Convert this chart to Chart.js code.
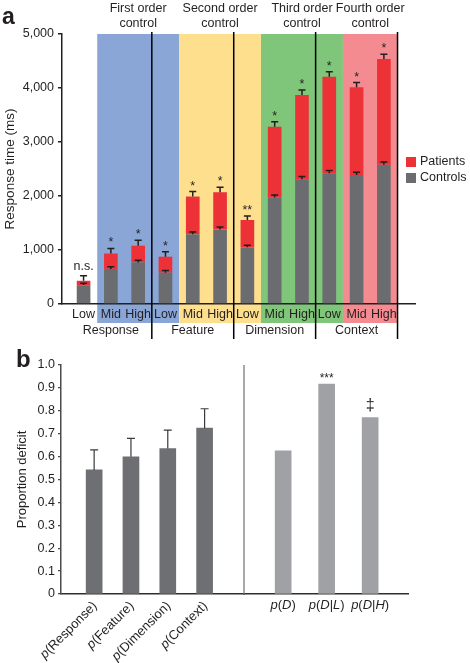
<!DOCTYPE html>
<html lang="en">
<head>
<meta charset="utf-8">
<title>Response time and proportion deficit</title>
<script src="https://cdn.jsdelivr.net/npm/chart.js@4.4.1/dist/chart.umd.min.js"></script>
<style>
  html, body { margin: 0; padding: 0; background: #ffffff; }
  .panel { position: relative; width: 470px; }
  #panel-a { height: 345px; }
  #panel-b { height: 318px; }
</style>
</head>
<body>
<div class="panel" id="panel-a"><canvas id="response-time"></canvas></div>
<div class="panel" id="panel-b"><canvas id="proportion-deficit"></canvas></div>
<script>
// ---- panel a data ----
const levels = ["Low", "Mid", "High", "Low", "Mid", "High", "Low", "Mid", "High", "Low", "Mid", "High"];
const taskGroups = ["Response", "Feature", "Dimension", "Context"];
const orderLabels = [["First order", "control"], ["Second order", "control"], ["Third order", "control"], ["Fourth order", "control"]];
const orderFirst = [1, 4, 7, 10];
const orderLast = [3, 6, 9, 11];
const controlsRT = [350, 650, 770, 580, 1290, 1380, 1050, 1970, 2310, 2420, 2390, 2580];
const controlsErr = [35, 40, 40, 40, 45, 45, 40, 50, 50, 50, 50, 50];
const patientsRT = [430, 935, 1080, 876, 1990, 2070, 1556, 3284, 3871, 4210, 4013, 4537];
const patientsErr = [95, 95, 100, 90, 92, 93, 75, 92, 92, 92, 88, 88];
const significance = ["n.s.", "*", "*", "*", "*", "*", "**", "*", "*", "*", "*", "*"];
const rtTicks = [0, 1000, 2000, 3000, 4000, 5000];

// ---- panel b data ----
const deficitLeftLabels = ["p(Response)", "p(Feature)", "p(Dimension)", "p(Context)"];
const deficitLeft = [0.542, 0.599, 0.635, 0.724];
const deficitLeftErr = [0.087, 0.081, 0.081, 0.085];
const deficitRightLabels = ["p(D)", "p(D|L)", "p(D|H)"];
const deficitRight = [0.625, 0.917, 0.770];
const deficitRightMarks = ["", "***", "\u2021"];
const deficitTicks = [0, 0.1, 0.2, 0.3, 0.4, 0.5, 0.6, 0.7, 0.8, 0.9, 1.0];

const fontFamily = '"Liberation Sans", Arial, Helvetica, sans-serif';
const ink = "#231f20";
const orderColors = ["#89a6d7", "#fddf8e", "#7fc57a", "#f38b91"];

Chart.defaults.font.family = fontFamily;
Chart.defaults.color = ink;

function drawErrorBar(ctx, x, yFrom, yTo, half) {
  ctx.beginPath();
  ctx.moveTo(x, yFrom);
  ctx.lineTo(x, yTo);
  ctx.moveTo(x - half, yTo);
  ctx.lineTo(x + half, yTo);
  ctx.stroke();
}

function richParts(label, italicAll) {
  return [...label].map((ch, k) => ({ ch, italic: /[A-Za-z]/.test(ch) && (italicAll || k === 0) }));
}

function richFont(italic, size) {
  return (italic ? "italic " : "") + size + "px " + fontFamily;
}

function measureRich(ctx, parts, size) {
  let w = 0;
  for (const p of parts) {
    ctx.font = richFont(p.italic, size);
    w += ctx.measureText(p.ch).width;
  }
  return w;
}

function fillRich(ctx, parts, size, startX, y) {
  let cx = startX;
  for (const p of parts) {
    ctx.font = richFont(p.italic, size);
    ctx.fillText(p.ch, cx, y);
    cx += ctx.measureText(p.ch).width;
  }
}

const panelAExtras = {
  id: "panelAExtras",
  beforeDraw(chart) {
    const { ctx, chartArea, scales: { x } } = chart;
    ctx.save();
    orderFirst.forEach((first, k) => {
      const left = x.getPixelForValue(first - 0.5);
      const right = x.getPixelForValue(orderLast[k] + 0.5);
      ctx.fillStyle = orderColors[k];
      ctx.fillRect(left, chartArea.top, right - left, chartArea.bottom - chartArea.top + 19);
    });
    ctx.restore();
  },
  afterDatasetsDraw(chart) {
    const { ctx, scales: { x, y } } = chart;
    ctx.save();
    ctx.strokeStyle = ink;
    ctx.lineWidth = 1.5;
    ctx.fillStyle = ink;
    ctx.textAlign = "center";
    ctx.textBaseline = "alphabetic";
    ctx.font = "12.5px " + fontFamily;
    levels.forEach((_, i) => {
      const px = x.getPixelForValue(i);
      drawErrorBar(ctx, px, y.getPixelForValue(controlsRT[i]), y.getPixelForValue(controlsRT[i] + controlsErr[i]), 3.5);
      const errTop = y.getPixelForValue(patientsRT[i] + patientsErr[i]);
      drawErrorBar(ctx, px, y.getPixelForValue(patientsRT[i]), errTop, 3.5);
      const mark = significance[i];
      ctx.fillText(mark, px, errTop - (mark === "n.s." ? 6 : 2));
    });
    ctx.restore();
  },
  afterDraw(chart) {
    const { ctx, chartArea, scales: { x } } = chart;
    ctx.save();
    // group separators
    ctx.strokeStyle = "#000000";
    ctx.lineWidth = 1.5;
    taskGroups.forEach((_, k) => {
      const px = x.getPixelForValue(3 * k + 2.5);
      ctx.beginPath();
      ctx.moveTo(px, chartArea.top - 2);
      ctx.lineTo(px, chartArea.bottom + 35);
      ctx.stroke();
    });
    ctx.fillStyle = ink;
    ctx.textAlign = "center";
    ctx.textBaseline = "middle";
    ctx.font = "12.5px " + fontFamily;
    taskGroups.forEach((name, k) => {
      ctx.fillText(name, x.getPixelForValue(3 * k + 1), chartArea.bottom + 27);
    });
    orderLabels.forEach((lines, k) => {
      const cx = x.getPixelForValue((orderFirst[k] + orderLast[k]) / 2);
      ctx.fillText(lines[0], cx, chartArea.top - 25);
      ctx.fillText(lines[1], cx, chartArea.top - 10);
    });
    // legend
    const midY = (chartArea.top + chartArea.bottom) / 2;
    const items = chart.data.datasets.slice().reverse();
    ctx.textAlign = "left";
    items.forEach((ds, k) => {
      const cy = midY - 7 + k * 16;
      ctx.fillStyle = ds.backgroundColor;
      ctx.fillRect(chartArea.right - 9, cy - 5, 10, 10);
      ctx.fillStyle = ink;
      ctx.fillText(ds.label, chartArea.right + 5, cy);
    });
    // panel letter
    ctx.font = "bold 23px " + fontFamily;
    ctx.textBaseline = "alphabetic";
    ctx.fillText("a", 2, 24);
    ctx.restore();
  }
};

new Chart(document.getElementById("response-time"), {
  type: "bar",
  data: {
    datasets: [
      {
        label: "Controls",
        data: controlsRT.map((v, i) => ({ x: i, y: v })),
        backgroundColor: "#6b6c6f",
        stack: "rt"
      },
      {
        label: "Patients",
        data: patientsRT.map((v, i) => ({ x: i, y: v - controlsRT[i] })),
        backgroundColor: "#ec3237",
        stack: "rt"
      }
    ]
  },
  options: {
    animation: false,
    responsive: true,
    maintainAspectRatio: false,
    layout: { padding: { top: 34, right: 55, bottom: 21, left: 0 } },
    plugins: { legend: { display: false }, tooltip: { enabled: false } },
    datasets: { bar: { categoryPercentage: 1, barPercentage: 0.5 } },
    scales: {
      x: {
        type: "linear",
        stacked: true,
        offset: false,
        min: -0.79,
        max: 12.14,
        afterBuildTicks: (scale) => { scale.ticks = levels.map((_, i) => ({ value: i })); },
        afterFit: (scale) => { scale.height = 20; },
        grid: { display: false, drawTicks: false },
        border: { color: ink, width: 1.5 },
        ticks: {
          callback: (v) => levels[v],
          font: { size: 12.5 },
          color: ink,
          padding: 3,
          autoSkip: false,
          maxRotation: 0
        }
      },
      y: {
        stacked: true,
        min: 0,
        max: 5000,
        afterBuildTicks: (scale) => { scale.ticks = rtTicks.map((v) => ({ value: v })); },
        afterFit: (scale) => { scale.width = 62; },
        grid: { drawOnChartArea: false, drawTicks: true, tickLength: 4, color: ink, lineWidth: 1.5 },
        border: { color: ink, width: 1.5 },
        ticks: {
          callback: (v) => Number(v).toLocaleString("en-US"),
          font: { size: 12.5 },
          color: ink,
          padding: 4
        },
        title: {
          display: true,
          text: "Response time (ms)",
          font: { size: 13.5 },
          color: ink,
          padding: { top: 2, bottom: 0 }
        }
      }
    }
  },
  plugins: [panelAExtras]
});

const panelBExtras = {
  id: "panelBExtras",
  afterDatasetsDraw(chart) {
    const { ctx, scales: { xL, xR, y } } = chart;
    ctx.save();
    ctx.strokeStyle = "#3a3a3c";
    ctx.lineWidth = 1.2;
    deficitLeft.forEach((v, i) => {
      const px = xL.getPixelForValue(i);
      drawErrorBar(ctx, px, y.getPixelForValue(v), y.getPixelForValue(v + deficitLeftErr[i]), 4);
    });
    ctx.fillStyle = ink;
    ctx.textAlign = "center";
    ctx.textBaseline = "alphabetic";
    deficitRight.forEach((v, i) => {
      const mark = deficitRightMarks[i];
      if (!mark) return;
      const top = y.getPixelForValue(v);
      if (mark === "***") {
        ctx.font = "12px " + fontFamily;
        ctx.fillText(mark, xR.getPixelForValue(i), top - 2);
      } else {
        ctx.font = "16px " + fontFamily;
        ctx.fillText(mark, xR.getPixelForValue(i), top - 8);
      }
    });
    ctx.restore();
  },
  afterDraw(chart) {
    const { ctx, chartArea, scales: { xL, xR } } = chart;
    ctx.save();
    // separator between the two groups
    ctx.strokeStyle = "#7b7b7d";
    ctx.lineWidth = 1.3;
    ctx.beginPath();
    ctx.moveTo(xR.left, chartArea.top);
    ctx.lineTo(xR.left, chartArea.bottom);
    ctx.stroke();

    ctx.fillStyle = ink;
    ctx.textBaseline = "middle";
    const size = 13;
    deficitLeftLabels.forEach((label, i) => {
      const parts = richParts(label, false);
      const w = measureRich(ctx, parts, size);
      ctx.save();
      ctx.translate(xL.getPixelForValue(i) + 1, chartArea.bottom + 10);
      ctx.rotate(-Math.PI / 4);
      fillRich(ctx, parts, size, -w, 0);
      ctx.restore();
    });
    deficitRightLabels.forEach((label, i) => {
      const parts = richParts(label, true);
      const w = measureRich(ctx, parts, size);
      fillRich(ctx, parts, size, xR.getPixelForValue(i) - w / 2, chartArea.bottom + 11);
    });
    ctx.font = "bold 24px " + fontFamily;
    ctx.textBaseline = "alphabetic";
    ctx.textAlign = "left";
    ctx.fillText("b", 16, 22);
    ctx.restore();
  }
};

const hiddenTicksAxis = {
  type: "linear",
  position: "bottom",
  stack: "deficit",
  offset: false,
  grid: { display: false, drawTicks: false },
  border: { color: "#2e2e30", width: 1.5 },
  ticks: { display: false },
  afterFit: (scale) => { scale.height = 0; }
};

new Chart(document.getElementById("proportion-deficit"), {
  type: "bar",
  data: {
    datasets: [
      {
        label: "Proportion deficit",
        data: deficitLeft.map((v, i) => ({ x: i, y: v })),
        xAxisID: "xL",
        backgroundColor: "#6e6f72"
      },
      {
        label: "Conditional proportion deficit",
        data: deficitRight.map((v, i) => ({ x: i, y: v })),
        xAxisID: "xR",
        backgroundColor: "#9fa1a4"
      }
    ]
  },
  options: {
    animation: false,
    responsive: true,
    maintainAspectRatio: false,
    layout: { padding: { top: 20, right: 62, bottom: 69, left: 0 } },
    plugins: { legend: { display: false }, tooltip: { enabled: false } },
    // each dataset sits on its own x axis, so bars are not grouped side by side
    datasets: { bar: { barThickness: 16, grouped: false } },
    scales: {
      xL: Object.assign({}, hiddenTicksAxis, {
        stackWeight: 183,
        min: -0.9,
        max: 4.07,
        afterBuildTicks: (scale) => { scale.ticks = deficitLeftLabels.map((_, i) => ({ value: i })); }
      }),
      xR: Object.assign({}, hiddenTicksAxis, {
        stackWeight: 164,
        min: -0.9,
        max: 2.87,
        afterBuildTicks: (scale) => { scale.ticks = deficitRightLabels.map((_, i) => ({ value: i })); }
      }),
      y: {
        min: 0,
        max: 1,
        afterBuildTicks: (scale) => { scale.ticks = deficitTicks.map((v) => ({ value: v })); },
        afterFit: (scale) => { scale.width = 61; },
        grid: { drawOnChartArea: false, drawTicks: true, tickLength: 3, color: "#4a4a4c", lineWidth: 1.3 },
        border: { color: "#4a4a4c", width: 1.5 },
        ticks: {
          callback: (v) => (v === 0 ? "0" : Number(v).toFixed(1)),
          font: { size: 12.5 },
          color: ink,
          padding: 3
        },
        title: {
          display: true,
          text: "Proportion deficit",
          font: { size: 13 },
          color: ink,
          padding: { top: 15, bottom: 0 }
        }
      }
    }
  },
  plugins: [panelBExtras]
});
</script>
</body>
</html>
